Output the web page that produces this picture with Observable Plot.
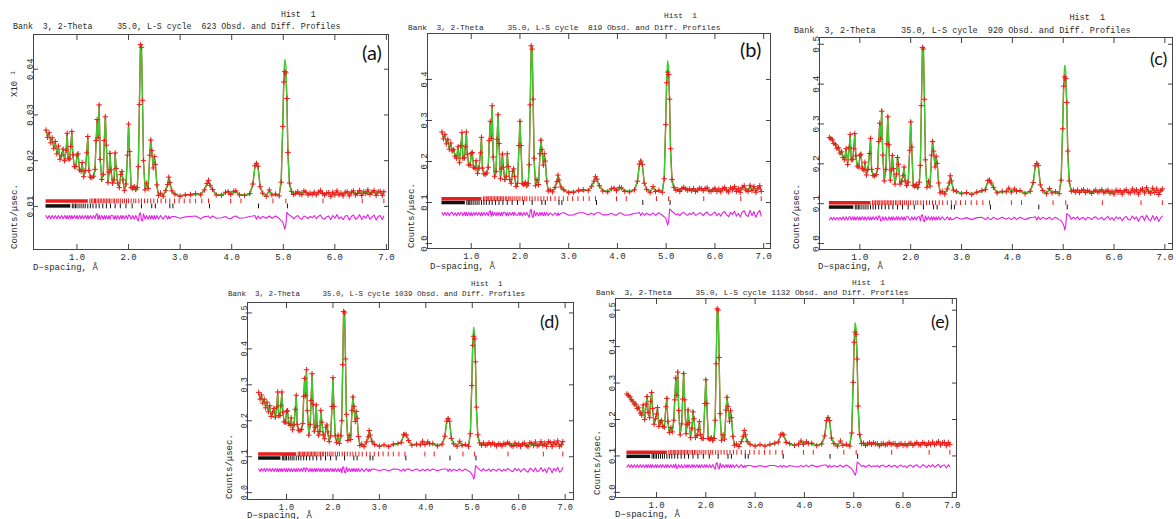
<!DOCTYPE html>
<html><head><meta charset="utf-8">
<script src="https://cdn.jsdelivr.net/npm/d3@7"></script>
<script src="https://cdn.jsdelivr.net/npm/@observablehq/plot@0.6"></script>
<style>
html,body{margin:0;padding:0;background:#fff;width:1176px;height:519px;overflow:hidden;position:relative}
.t{position:absolute;font-family:"Liberation Mono",monospace;color:#2a2a2a;white-space:pre;line-height:1}
.lab{position:absolute;font-family:Lato,"Open Sans",sans-serif;color:#111;line-height:1}
.rot{transform:rotate(-90deg);transform-origin:0 0}
svg.p{position:absolute;overflow:visible}
</style></head><body>
<script>
// ---- d-spacing grid (Å): peak region, then background tail ----
const dSpacing = [
0.40,0.43,0.46,0.49,0.52,0.55,0.58,0.61,0.64,0.67,
0.70,0.73,0.76,0.79,0.81,0.83,0.86,0.88,0.90,0.92,
0.95,0.98,1.00,1.02,1.05,1.08,1.10,1.13,1.16,1.19,
1.21,1.23,1.26,1.29,1.32,1.35,1.37,1.39,1.41,1.43,
1.45,1.48,1.51,1.53,1.55,1.57,1.60,1.62,1.64,1.66,
1.69,1.72,1.74,1.76,1.79,1.82,1.85,1.87,1.89,1.92,
1.95,1.98,2.00,2.02,2.05,2.08,2.11,2.14,2.17,2.19,
2.21,2.23,2.25,2.27,2.29,2.32,2.35,2.38,2.41,2.43,
2.45,2.48,2.50,2.52,2.55,2.58,2.62,2.67,2.72,2.76,
2.78,2.80,2.84,2.90,3.00,3.10,3.20,3.30,3.40,3.47,
3.52,3.55,3.58,3.63,3.70,3.80,3.88,3.93,3.98,4.04,
4.08,4.15,4.25,4.35,4.41,4.45,4.48,4.51,4.55,4.60,
4.67,4.73,4.78,4.85,4.92,4.96,4.99,5.01,5.03,5.05,
5.07,5.09,5.12];
const dSpacingTail = [
5.16,5.20,5.24,5.28,5.32,5.36,5.40,5.44,5.48,5.52,
5.56,5.60,5.64,5.68,5.72,5.76,5.80,5.84,5.88,5.92,
5.96,6.00,6.04,6.08,6.12,6.16,6.20,6.24,6.28,6.32,
6.36,6.40,6.44,6.48,6.52,6.56,6.60,6.64,6.68,6.72,
6.76,6.80,6.84,6.88,6.92,6.95];

// ---- panel (a), cycle 623 ----
const calcA = [
0.0263,0.0254,0.0257,0.0242,0.0246,0.0230,0.0238,0.0218,0.0228,0.0206,
0.0208,0.0228,0.0196,0.0226,0.0256,0.0207,0.0200,0.0234,0.0260,0.0216,
0.0183,0.0190,0.0208,0.0218,0.0176,0.0180,0.0192,0.0168,0.0174,0.0220,
0.0249,0.0182,0.0160,0.0166,0.0162,0.0184,0.0238,0.0282,0.0255,0.0317,
0.0207,0.0155,0.0174,0.0240,0.0300,0.0230,0.0156,0.0171,0.0220,0.0176,
0.0147,0.0162,0.0213,0.0187,0.0147,0.0145,0.0166,0.0180,0.0154,0.0138,
0.0145,0.0216,0.0275,0.0216,0.0145,0.0136,0.0147,0.0133,0.0145,0.0195,
0.0315,0.0444,0.0454,0.0340,0.0192,0.0140,0.0147,0.0143,0.0208,0.0249,
0.0218,0.0188,0.0205,0.0196,0.0143,0.0128,0.0125,0.0126,0.0131,0.0152,
0.0161,0.0155,0.0132,0.0125,0.0124,0.0124,0.0124,0.0125,0.0128,0.0134,
0.0148,0.0154,0.0148,0.0134,0.0127,0.0125,0.0129,0.0134,0.0129,0.0131,
0.0131,0.0127,0.0125,0.0126,0.0146,0.0185,0.0198,0.0185,0.0146,0.0127,
0.0124,0.0133,0.0127,0.0124,0.0125,0.0160,0.0285,0.0390,0.0421,0.0408,
0.0325,0.0210,0.0146];
const obsA = [
0.0267,0.0251,0.0261,0.0239,0.0250,0.0227,0.0242,0.0215,0.0232,0.0203,
0.0212,0.0225,0.0200,0.0223,0.0260,0.0204,0.0204,0.0231,0.0264,0.0213,
0.0187,0.0187,0.0212,0.0215,0.0180,0.0177,0.0196,0.0165,0.0178,0.0217,
0.0253,0.0179,0.0164,0.0163,0.0166,0.0181,0.0244,0.0290,0.0250,0.0322,
0.0203,0.0159,0.0170,0.0244,0.0296,0.0234,0.0152,0.0175,0.0216,0.0180,
0.0151,0.0158,0.0217,0.0183,0.0151,0.0141,0.0170,0.0176,0.0158,0.0135,
0.0149,0.0212,0.0280,0.0220,0.0141,0.0140,0.0143,0.0137,0.0141,0.0187,
0.0323,0.0454,0.0448,0.0332,0.0200,0.0136,0.0151,0.0139,0.0212,0.0245,
0.0222,0.0184,0.0209,0.0192,0.0147,0.0124,0.0129,0.0122,0.0135,0.0148,
0.0164,0.0152,0.0134,0.0127,0.0122,0.0125,0.0126,0.0128,0.0125,0.0136,
0.0150,0.0157,0.0146,0.0137,0.0125,0.0124,0.0131,0.0132,0.0126,0.0133,
0.0134,0.0125,0.0124,0.0128,0.0149,0.0189,0.0194,0.0188,0.0143,0.0129,
0.0122,0.0136,0.0125,0.0127,0.0123,0.0153,0.0275,0.0372,0.0395,0.0392,
0.0336,0.0218,0.0151];
const calcATail = [
0.0131,0.0129,0.0128,0.0128,0.0129,0.0130,0.0131,0.0130,0.0128,0.0127,
0.0127,0.0127,0.0128,0.0129,0.0130,0.0130,0.0129,0.0128,0.0127,0.0127,
0.0127,0.0127,0.0128,0.0128,0.0128,0.0128,0.0128,0.0128,0.0129,0.0129,
0.0129,0.0129,0.0129,0.0129,0.0129,0.0129,0.0130,0.0130,0.0130,0.0130,
0.0130,0.0130,0.0130,0.0129,0.0129,0.0129];
const obsATail = [
0.0133,0.0126,0.0129,0.0132,0.0127,0.0126,0.0134,0.0131,0.0125,0.0129,
0.0126,0.0131,0.0125,0.0131,0.0135,0.0128,0.0125,0.0129,0.0130,0.0122,
0.0131,0.0125,0.0134,0.0125,0.0129,0.0123,0.0131,0.0132,0.0123,0.0131,
0.0134,0.0125,0.0128,0.0135,0.0124,0.0132,0.0128,0.0136,0.0126,0.0131,
0.0135,0.0124,0.0132,0.0133,0.0124,0.0132];

// ---- panel (b), cycle 819 ----
const calcB = [
0.268,0.258,0.262,0.246,0.250,0.234,0.242,0.222,0.232,0.210,
0.212,0.232,0.200,0.235,0.268,0.212,0.205,0.240,0.268,0.222,
0.188,0.195,0.215,0.226,0.182,0.186,0.198,0.174,0.180,0.225,
0.255,0.188,0.166,0.172,0.168,0.190,0.245,0.290,0.262,0.330,
0.215,0.160,0.180,0.250,0.318,0.240,0.162,0.178,0.222,0.182,
0.152,0.168,0.215,0.192,0.152,0.150,0.172,0.186,0.160,0.142,
0.150,0.235,0.302,0.235,0.150,0.140,0.152,0.137,0.150,0.200,
0.330,0.470,0.480,0.360,0.200,0.145,0.152,0.148,0.215,0.256,
0.225,0.195,0.215,0.205,0.148,0.132,0.128,0.129,0.134,0.155,
0.164,0.158,0.136,0.128,0.127,0.127,0.127,0.128,0.131,0.138,
0.154,0.161,0.154,0.138,0.130,0.128,0.132,0.137,0.132,0.134,
0.134,0.130,0.128,0.129,0.150,0.190,0.205,0.190,0.150,0.130,
0.127,0.136,0.130,0.127,0.128,0.165,0.300,0.410,0.445,0.430,
0.340,0.220,0.150];
const obsB = [
0.272,0.255,0.266,0.243,0.254,0.230,0.245,0.226,0.229,0.213,
0.208,0.236,0.197,0.239,0.271,0.208,0.209,0.236,0.272,0.218,
0.192,0.191,0.219,0.222,0.186,0.183,0.202,0.171,0.184,0.221,
0.259,0.184,0.170,0.169,0.172,0.186,0.251,0.298,0.256,0.336,
0.211,0.164,0.176,0.254,0.314,0.244,0.158,0.182,0.218,0.186,
0.156,0.164,0.219,0.188,0.156,0.147,0.176,0.182,0.164,0.139,
0.147,0.239,0.298,0.239,0.146,0.144,0.149,0.141,0.146,0.192,
0.338,0.482,0.474,0.352,0.208,0.141,0.156,0.144,0.219,0.252,
0.229,0.191,0.219,0.201,0.152,0.128,0.131,0.126,0.137,0.151,
0.167,0.155,0.138,0.131,0.124,0.125,0.130,0.131,0.129,0.140,
0.152,0.163,0.157,0.141,0.128,0.126,0.134,0.135,0.129,0.137,
0.136,0.127,0.126,0.131,0.152,0.194,0.201,0.193,0.147,0.132,
0.124,0.139,0.127,0.130,0.125,0.158,0.290,0.392,0.418,0.412,
0.352,0.231,0.156];
const calcBTail = [
0.134,0.132,0.131,0.131,0.132,0.133,0.134,0.133,0.131,0.130,
0.130,0.130,0.131,0.132,0.133,0.133,0.132,0.131,0.130,0.130,
0.130,0.130,0.131,0.131,0.131,0.131,0.131,0.131,0.132,0.132,
0.132,0.132,0.132,0.132,0.132,0.132,0.133,0.133,0.133,0.133,
0.133,0.133,0.133,0.132,0.132,0.132];
const obsBTail = [
0.137,0.130,0.132,0.127,0.134,0.137,0.133,0.130,0.133,0.129,
0.134,0.127,0.130,0.135,0.134,0.129,0.134,0.136,0.128,0.127,
0.131,0.135,0.127,0.133,0.126,0.134,0.137,0.129,0.126,0.136,
0.131,0.139,0.127,0.134,0.125,0.137,0.141,0.130,0.127,0.142,
0.129,0.139,0.125,0.135,0.141,0.127];

// ---- panel (c), cycle 920 ----
const calcC = [
0.270,0.260,0.264,0.248,0.252,0.236,0.244,0.224,0.234,0.212,
0.214,0.234,0.202,0.237,0.270,0.214,0.207,0.242,0.272,0.224,
0.190,0.196,0.217,0.228,0.184,0.188,0.200,0.176,0.182,0.230,
0.260,0.190,0.167,0.173,0.169,0.192,0.250,0.296,0.268,0.338,
0.218,0.161,0.182,0.254,0.322,0.244,0.163,0.180,0.225,0.184,
0.153,0.170,0.220,0.195,0.153,0.151,0.174,0.188,0.161,0.142,
0.150,0.238,0.309,0.238,0.150,0.140,0.152,0.137,0.150,0.202,
0.338,0.483,0.493,0.370,0.204,0.145,0.152,0.148,0.218,0.260,
0.228,0.196,0.215,0.205,0.148,0.131,0.127,0.128,0.133,0.156,
0.167,0.160,0.136,0.128,0.127,0.126,0.126,0.127,0.130,0.138,
0.155,0.161,0.155,0.138,0.130,0.128,0.132,0.137,0.132,0.134,
0.134,0.130,0.128,0.129,0.150,0.191,0.205,0.192,0.150,0.130,
0.127,0.135,0.130,0.127,0.128,0.165,0.300,0.412,0.447,0.432,
0.342,0.222,0.150];
const obsC = [
0.266,0.263,0.260,0.251,0.248,0.239,0.240,0.227,0.230,0.216,
0.210,0.238,0.198,0.241,0.274,0.210,0.211,0.238,0.276,0.220,
0.194,0.192,0.221,0.224,0.188,0.184,0.204,0.172,0.186,0.226,
0.264,0.186,0.171,0.170,0.173,0.188,0.256,0.302,0.262,0.332,
0.222,0.157,0.186,0.250,0.318,0.248,0.159,0.184,0.221,0.188,
0.149,0.174,0.216,0.199,0.149,0.155,0.170,0.192,0.157,0.146,
0.154,0.234,0.305,0.242,0.146,0.144,0.148,0.141,0.154,0.196,
0.346,0.492,0.488,0.362,0.210,0.141,0.156,0.144,0.222,0.256,
0.232,0.192,0.219,0.201,0.152,0.127,0.131,0.124,0.137,0.152,
0.170,0.157,0.134,0.131,0.125,0.128,0.123,0.129,0.133,0.135,
0.158,0.159,0.152,0.141,0.127,0.131,0.130,0.139,0.129,0.137,
0.131,0.133,0.125,0.131,0.153,0.195,0.201,0.196,0.147,0.133,
0.125,0.138,0.127,0.130,0.125,0.159,0.288,0.395,0.418,0.414,
0.354,0.232,0.157];
const calcCTail = [
0.133,0.131,0.130,0.130,0.131,0.132,0.133,0.132,0.130,0.129,
0.129,0.129,0.130,0.131,0.132,0.132,0.131,0.130,0.129,0.129,
0.129,0.129,0.130,0.130,0.130,0.130,0.130,0.130,0.131,0.131,
0.131,0.131,0.131,0.131,0.131,0.131,0.132,0.132,0.132,0.132,
0.132,0.132,0.132,0.131,0.131,0.131];
const obsCTail = [
0.131,0.134,0.129,0.134,0.128,0.133,0.135,0.128,0.133,0.130,
0.126,0.131,0.134,0.129,0.131,0.135,0.127,0.131,0.134,0.126,
0.131,0.124,0.134,0.129,0.133,0.124,0.132,0.135,0.128,0.127,
0.137,0.129,0.135,0.124,0.134,0.137,0.127,0.140,0.130,0.126,
0.139,0.128,0.137,0.123,0.133,0.137];

// ---- panel (d), cycle 1039 ----
const calcD = [
0.276,0.264,0.268,0.252,0.256,0.240,0.248,0.228,0.238,0.216,
0.218,0.238,0.206,0.242,0.276,0.218,0.211,0.246,0.276,0.228,
0.193,0.200,0.222,0.232,0.188,0.191,0.204,0.179,0.185,0.236,
0.267,0.194,0.170,0.176,0.172,0.196,0.262,0.313,0.275,0.336,
0.224,0.164,0.186,0.260,0.327,0.250,0.167,0.186,0.240,0.190,
0.156,0.174,0.225,0.200,0.157,0.154,0.178,0.192,0.165,0.146,
0.154,0.244,0.316,0.244,0.154,0.144,0.156,0.141,0.154,0.208,
0.348,0.496,0.506,0.380,0.210,0.149,0.156,0.152,0.225,0.270,
0.236,0.202,0.222,0.211,0.152,0.135,0.131,0.132,0.137,0.159,
0.170,0.163,0.140,0.132,0.131,0.131,0.131,0.132,0.135,0.142,
0.158,0.165,0.158,0.142,0.134,0.132,0.136,0.141,0.136,0.138,
0.138,0.134,0.132,0.133,0.154,0.196,0.210,0.196,0.154,0.134,
0.131,0.140,0.134,0.131,0.132,0.170,0.310,0.425,0.460,0.445,
0.352,0.228,0.155];
const obsD = [
0.279,0.260,0.272,0.249,0.260,0.236,0.252,0.225,0.242,0.212,
0.222,0.234,0.210,0.238,0.280,0.214,0.215,0.242,0.280,0.224,
0.197,0.196,0.226,0.228,0.192,0.187,0.208,0.175,0.189,0.232,
0.271,0.190,0.174,0.172,0.176,0.192,0.268,0.318,0.270,0.342,
0.228,0.160,0.190,0.256,0.331,0.246,0.171,0.182,0.244,0.186,
0.160,0.170,0.229,0.196,0.161,0.150,0.182,0.188,0.169,0.142,
0.158,0.240,0.320,0.240,0.158,0.140,0.160,0.137,0.158,0.200,
0.356,0.504,0.500,0.372,0.218,0.145,0.160,0.148,0.229,0.266,
0.240,0.198,0.226,0.207,0.156,0.131,0.135,0.128,0.141,0.155,
0.173,0.160,0.143,0.134,0.129,0.133,0.128,0.135,0.137,0.139,
0.161,0.162,0.160,0.145,0.132,0.135,0.133,0.143,0.134,0.141,
0.136,0.137,0.130,0.135,0.157,0.199,0.206,0.199,0.151,0.136,
0.129,0.143,0.131,0.134,0.129,0.164,0.298,0.410,0.435,0.428,
0.364,0.238,0.161];
const calcDTail = [
0.137,0.135,0.134,0.134,0.135,0.136,0.137,0.136,0.134,0.133,
0.133,0.133,0.134,0.135,0.136,0.136,0.135,0.134,0.133,0.133,
0.133,0.133,0.134,0.134,0.134,0.134,0.134,0.134,0.135,0.135,
0.135,0.135,0.135,0.135,0.135,0.135,0.136,0.136,0.136,0.136,
0.136,0.136,0.136,0.135,0.135,0.135];
const obsDTail = [
0.138,0.132,0.138,0.132,0.134,0.139,0.133,0.138,0.135,0.130,
0.136,0.134,0.130,0.137,0.134,0.140,0.136,0.131,0.129,0.138,
0.131,0.136,0.129,0.135,0.138,0.131,0.128,0.139,0.137,0.131,
0.141,0.130,0.133,0.142,0.131,0.138,0.129,0.142,0.140,0.128,
0.141,0.133,0.144,0.129,0.133,0.142];

// ---- panel (e), cycle 1132 ----
const calcE = [
0.273,0.262,0.266,0.250,0.254,0.238,0.246,0.226,0.236,0.214,
0.216,0.236,0.204,0.238,0.267,0.215,0.209,0.246,0.278,0.226,
0.191,0.198,0.219,0.229,0.185,0.189,0.201,0.177,0.183,0.231,
0.262,0.191,0.168,0.174,0.170,0.194,0.258,0.308,0.272,0.335,
0.221,0.162,0.184,0.260,0.330,0.250,0.165,0.182,0.230,0.187,
0.154,0.172,0.225,0.198,0.155,0.152,0.176,0.190,0.163,0.144,
0.152,0.240,0.313,0.240,0.152,0.142,0.154,0.139,0.152,0.206,
0.345,0.495,0.505,0.378,0.208,0.147,0.154,0.150,0.222,0.265,
0.232,0.199,0.220,0.209,0.150,0.133,0.129,0.130,0.135,0.157,
0.168,0.161,0.138,0.130,0.129,0.129,0.129,0.130,0.133,0.140,
0.156,0.163,0.156,0.140,0.132,0.130,0.134,0.139,0.134,0.136,
0.136,0.132,0.130,0.131,0.152,0.194,0.209,0.194,0.152,0.132,
0.129,0.138,0.132,0.129,0.130,0.170,0.315,0.432,0.465,0.450,
0.355,0.228,0.153];
const obsE = [
0.270,0.266,0.262,0.254,0.250,0.242,0.242,0.230,0.232,0.218,
0.212,0.240,0.200,0.242,0.263,0.219,0.205,0.250,0.274,0.230,
0.187,0.202,0.215,0.233,0.181,0.193,0.197,0.181,0.179,0.235,
0.258,0.195,0.164,0.178,0.166,0.198,0.254,0.314,0.266,0.330,
0.225,0.158,0.188,0.256,0.326,0.254,0.161,0.186,0.226,0.191,
0.150,0.176,0.221,0.202,0.151,0.156,0.172,0.194,0.159,0.148,
0.148,0.244,0.309,0.244,0.148,0.146,0.150,0.143,0.148,0.198,
0.353,0.504,0.500,0.370,0.216,0.143,0.158,0.146,0.226,0.261,
0.236,0.195,0.224,0.205,0.154,0.129,0.133,0.126,0.139,0.153,
0.170,0.158,0.140,0.132,0.127,0.131,0.127,0.132,0.135,0.138,
0.158,0.160,0.158,0.137,0.134,0.129,0.132,0.141,0.132,0.139,
0.134,0.135,0.128,0.133,0.155,0.197,0.205,0.197,0.149,0.134,
0.127,0.141,0.129,0.132,0.127,0.163,0.302,0.412,0.440,0.434,
0.366,0.237,0.159];
const calcETail = [
0.135,0.133,0.132,0.132,0.133,0.134,0.135,0.134,0.132,0.131,
0.131,0.131,0.132,0.133,0.134,0.134,0.133,0.132,0.131,0.131,
0.131,0.131,0.132,0.132,0.132,0.132,0.132,0.132,0.133,0.133,
0.133,0.133,0.133,0.133,0.133,0.133,0.134,0.134,0.134,0.134,
0.134,0.134,0.134,0.133,0.133,0.133];
const obsETail = [
0.134,0.135,0.129,0.133,0.136,0.132,0.136,0.133,0.134,0.128,
0.133,0.134,0.130,0.132,0.137,0.131,0.134,0.134,0.127,0.132,
0.134,0.129,0.133,0.128,0.134,0.135,0.129,0.133,0.137,0.131,
0.130,0.137,0.134,0.129,0.136,0.131,0.138,0.131,0.135,0.139,
0.130,0.136,0.137,0.128,0.137,0.131];

// difference curve offset (level where obs-calc is drawn), per panel a..e
const diffOffset = [0.0076, 0.072, 0.063, 0.063, 0.072];
// reflection-marker rows (levels), per panel a..e
const redRowLevel = [0.0112, 0.1095, 0.1025, 0.1075, 0.110];
const blackRowLevel = [0.0101, 0.100, 0.0915, 0.0964, 0.099];
// reflection positions (d, Å)
const redReflDense = [0.40, 1.22];
const redRefl = [1.25,1.28,1.31,1.34,1.36,1.39,1.42,1.45,1.48,1.51,1.54,1.57,1.60,1.63,1.66,1.70,1.73,1.77,1.80,1.84,1.88,1.92,1.96,2.00,2.05,2.10,2.14,2.20,2.25,2.31,2.37,2.43,2.49,2.56,2.63,2.72,2.80,2.89,2.98,3.08,3.19,3.30,3.42,3.55,3.98,4.18,4.80,5.05,5.77,6.53,6.95];
const blackReflDense = [0.40, 0.88];
const blackRefl = [0.91,0.94,0.97,1.00,1.04,1.08,1.12,1.16,1.21,1.26,1.31,1.37,1.43,1.50,1.57,1.65,1.74,1.84,1.95,2.07,2.25,2.45,2.52,2.80,2.86,3.57,4.52,5.08];

// ticks and labels
const xTickValues = [1,2,3,4,5,6,7];
const yTickValuesA = [0.01,0.02,0.03,0.04];
const yTickValuesB = [0.0,0.1,0.2,0.3,0.4];
const yTickValuesCDE = [0.0,0.1,0.2,0.3,0.4,0.5];
const panelLetters = ["(a)","(b)","(c)","(d)","(e)"];
const cycles = ["623","819","920","1039","1132"];

// ---- layout (pixels) ----
const layout = [
 {calc:calcA, obs:obsA, calcT:calcATail, obsT:obsATail, fl:33,  fr:388,  ft:34,  fb:249, xd:[0.157,7.04], yd:[0.00057,0.0476], yt:yTickValuesA, fmt:".2f", tx:13,  ty:28,  hy:16,  fs:8.27, afs:9,   lx:362, ly:42,  lfs:20, ylx:15,  yly:249, dsx:33,  dsy:269, x10:true},
 {calc:calcB, obs:obsB, calcT:calcBTail, obsT:obsBTail, fl:427, fr:770,  ft:33,  fb:248, xd:[0.103,7.14], yd:[-0.012,0.512],   yt:yTickValuesB, fmt:".1f", tx:408, ty:28,  hy:16,  fs:7.9,  afs:9,   lx:740, ly:39,  lfs:20, ylx:412, yly:248, dsx:430, dsy:268},
 {calc:calcC, obs:obsC, calcT:calcCTail, obsT:obsCTail, fl:819, fr:1172, ft:37,  fb:249, xd:[0.206,7.15], yd:[-0.015,0.517],   yt:yTickValuesCDE, fmt:".1f", tx:794, ty:32, hy:19, fs:8.5, afs:9.5, lx:1150, ly:49, lfs:18, ylx:797, yly:249, dsx:818, dsy:268},
 {calc:calcD, obs:obsD, calcT:calcDTail, obsT:obsDTail, fl:247, fr:573,  ft:302, fb:499, xd:[0.16,7.18],  yd:[-0.019,0.529],   yt:yTickValuesCDE, fmt:".1f", tx:228, ty:295, hy:285, fs:7.5, afs:8.5, lx:540, ly:312, lfs:18, ylx:230, yly:499, dsx:247, dsy:517},
 {calc:calcE, obs:obsE, calcT:calcETail, obsT:obsETail, fl:615, fr:956,  ft:298, fb:497, xd:[0.168,7.085],yd:[-0.014,0.532],   yt:yTickValuesCDE, fmt:".1f", tx:596, ty:293, hy:283, fs:7.9, afs:9,   lx:931, ly:312, lfs:18, ylx:598, yly:495, dsx:615, dsy:516}
];

function addText(cls, txt, left, top, fs, extra) {
  const el = document.createElement("div");
  el.className = cls;
  el.textContent = txt;
  el.style.left = left + "px";
  el.style.top = top + "px";
  el.style.fontSize = fs + "px";
  if (extra) Object.assign(el.style, extra);
  document.body.appendChild(el);
  return el;
}

const tickShape = {draw(ctx, l) { ctx.moveTo(0, -l / 2); ctx.lineTo(0, l / 2); }};
const RED = "#ee1b1b", GREEN = "#3acb2e", MAG = "#e81ee8";

layout.forEach((p, i) => {
  const dAll = dSpacing.concat(dSpacingTail);
  const cAll = p.calc.concat(p.calcT);
  const oAll = p.obs.concat(p.obsT);
  const n = Math.min(dAll.length, cAll.length, oAll.length);
  const rows = d3.range(n).map(k => ({
    d: dAll[k], calc: cAll[k], obs: oAll[k],
    diff: oAll[k] - cAll[k] + diffOffset[i]
  }));
  const ML = 34, MR = 8, MT = 8, MB = 22;
  const W = p.fr - p.fl + ML + MR, H = p.fb - p.ft + MT + MB;
  const blank = () => "";
  const svg = Plot.plot({
    width: W, height: H,
    marginLeft: ML, marginRight: MR, marginTop: MT, marginBottom: MB,
    x: {domain: p.xd},
    y: {domain: p.yd},
    style: {fontFamily: "Liberation Mono, monospace", fontSize: p.afs + "px", color: "#2a2a2a", background: "transparent"},
    marks: [
      Plot.frame({stroke: "#444", strokeWidth: 1}),
      Plot.axisX(xTickValues, {anchor: "bottom", tickSize: -5, tickPadding: 9, tickFormat: d3.format(".1f"), label: null, stroke: "#444"}),
      Plot.axisX(xTickValues, {anchor: "top", tickSize: -5, tickFormat: blank, label: null, stroke: "#444"}),
      Plot.axisY(p.yt, {anchor: "left", tickSize: -5, tickPadding: 6, tickRotate: -90, tickFormat: d3.format(p.fmt), label: null, stroke: "#444"}),
      Plot.axisY(p.yt, {anchor: "right", tickSize: -5, tickFormat: blank, label: null, stroke: "#444"}),
      // reflection markers
      Plot.ruleY([redRowLevel[i]], {x1: redReflDense[0], x2: redReflDense[1], stroke: RED, strokeWidth: 3.5}),
      Plot.vector(redRefl, {x: d => d, y: redRowLevel[i], length: 4, rotate: 0, anchor: "start", shape: tickShape, stroke: RED, strokeWidth: 1}),
      Plot.ruleY([blackRowLevel[i]], {x1: blackReflDense[0], x2: blackReflDense[1], stroke: "#111", strokeWidth: 3.5}),
      Plot.vector(blackRefl, {x: d => d, y: blackRowLevel[i], length: 4, rotate: 0, anchor: "start", shape: tickShape, stroke: "#111", strokeWidth: 1}),
      // difference
      Plot.line(rows, {x: "d", y: "diff", stroke: MAG, strokeWidth: 1.1}),
      // observed + calculated
      Plot.line(rows, {x: "d", y: "obs", stroke: RED, strokeWidth: 1.3}),
      Plot.line(rows, {x: "d", y: "calc", stroke: GREEN, strokeWidth: 1.3}),
      Plot.dot(rows, {x: "d", y: "obs", symbol: "plus", r: 1.9, stroke: RED, strokeWidth: 1})
    ]
  });
  svg.classList.add("p");
  svg.style.left = (p.fl - ML) + "px";
  svg.style.top = (p.ft - MT) + "px";
  document.body.appendChild(svg);

  const title = `Bank  3, 2-Theta     35.0, L-S cycle ${cycles[i].padStart(4)} Obsd. and Diff. Profiles`;
  addText("t", title, p.tx, p.ty - p.fs * 0.55, p.fs);
  addText("t", "Hist  1", p.tx + 54 * p.fs * 0.6, p.hy - p.fs * 0.55, p.fs);
  addText("lab", panelLetters[i], p.lx, p.ly, p.lfs);
  addText("t rot", "Counts/\u03bcsec.", p.ylx - 5, p.yly, 9, {lineHeight: "10px"});
  addText("t", "D\u2212spacing, \u00c5", p.dsx, p.dsy - 5, 9);
  if (p.x10) addText("t rot", "X10 \u00b9", p.ylx - 5, 97, 9, {lineHeight: "10px"});
});
</script>
</body></html>
